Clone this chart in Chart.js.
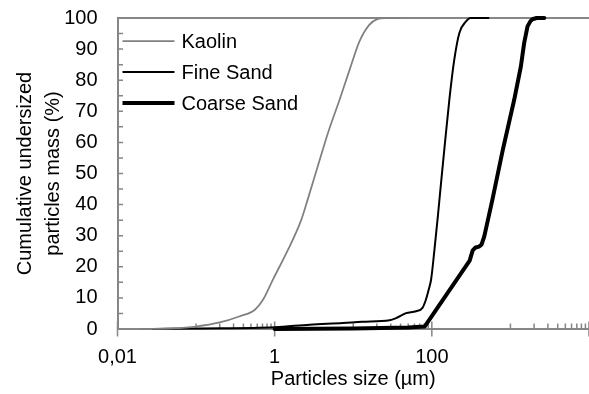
<!DOCTYPE html>
<html>
<head>
<meta charset="utf-8">
<script src="https://cdn.jsdelivr.net/npm/chart.js@4.4.1/dist/chart.umd.min.js"></script>
<style>
  html, body { margin: 0; padding: 0; background: #fff; }
</style>
</head>
<body>
<canvas id="psd" width="589" height="394"></canvas>
<script>
// particle size (µm) and cumulative undersized mass (%)
var kaolinSize = [0.02, 0.05, 0.1, 0.2, 0.36, 0.56, 0.71, 0.95, 1.48, 2.18, 2.63, 4.1, 5.0, 6.7, 9.0, 12, 16, 20.5, 25, 40];
var kaolinMass = [0, 0.2, 0.8, 2.1, 4.1, 6.2, 9.4, 15.9, 25.5, 35.1, 41.6, 57.7, 64.6, 73.7, 83.4, 92.5, 97.8, 99.7, 100, 100];

var fineSize = [0.028, 0.1, 1, 2.8, 7.4, 13, 29, 35, 47, 63, 76, 84, 92, 98, 108, 119, 131, 144, 167, 193, 224, 272, 310, 525];
var fineMass = [0, 0.2, 0.6, 1.4, 1.9, 2.3, 2.8, 3.5, 5.1, 5.7, 6.8, 9.4, 13, 16, 25.5, 36, 47, 57.6, 73.7, 86.6, 95.2, 98.9, 100, 100];

var coarseSize = [1, 10, 50, 81, 303, 331, 360, 400, 430, 465, 590, 800, 1117, 1358, 1497, 1651, 1800, 1908, 2150, 2700];
var coarseMass = [0, 0.2, 0.5, 0.8, 22, 25.3, 26.2, 26.5, 27.2, 29.8, 41.6, 57.6, 73.7, 84.4, 92, 97.3, 99.0, 99.6, 100, 100];

var seriesNames = ['Kaolin', 'Fine Sand', 'Coarse Sand'];

// axis ticks
var xLabelTicks = [0.01, 1, 100, 10000];
var xLabels = ['0,01', '1', '100', ''];
var xMinorTicks = [0.1, 0.2, 0.3, 0.4, 0.5, 0.6, 0.7, 0.8, 0.9,
                   10, 20, 30, 40, 50, 60, 70, 80, 90,
                   1000, 2000, 3000, 4000, 5000, 6000, 7000, 8000, 9000];
var yTickMarks = [5, 10, 15, 20, 25, 30, 35, 40, 45, 50, 55, 60, 65, 70, 75, 80, 85, 90, 95];

var axisGrey = '#868686';
var fontFamily = 'Arial, "Liberation Sans", sans-serif';
var clear = 'rgba(0,0,0,0)';

function pairs(xs, ys) {
    var out = [];
    for (var i = 0; i < xs.length; i++) out.push({x: xs[i], y: ys[i]});
    return out;
}

// Excel-style tick marks: y inside, x minor inside, x major crossing
var tickMarks = {
    id: 'tickMarks',
    beforeDatasetsDraw: function(chart) {
        var ctx = chart.ctx, xs = chart.scales.x, ys = chart.scales.y;
        var bottom = chart.chartArea.bottom, left = chart.chartArea.left;
        ctx.save();
        ctx.strokeStyle = axisGrey;
        ctx.lineWidth = 1.5;
        ctx.beginPath();
        yTickMarks.forEach(function(v) {
            var py = ys.getPixelForValue(v);
            ctx.moveTo(left, py); ctx.lineTo(left + 5.5, py);
        });
        xMinorTicks.forEach(function(v) {
            var px = xs.getPixelForValue(v);
            ctx.moveTo(px, bottom); ctx.lineTo(px, bottom - 5.5);
        });
        xLabelTicks.forEach(function(v) {
            var px = xs.getPixelForValue(v);
            ctx.moveTo(px, bottom - 7.5); ctx.lineTo(px, bottom + 7.5);
        });
        ctx.stroke();
        ctx.restore();
    }
};

// legend sitting inside the plot, top left
var insideLegend = {
    id: 'insideLegend',
    afterDraw: function(chart) {
        var ctx = chart.ctx, a = chart.chartArea;
        chart.data.datasets.forEach(function(ds, i) {
            var y = a.top + 23 + i * 31;
            ctx.save();
            ctx.strokeStyle = ds.borderColor;
            ctx.lineWidth = ds.borderWidth;
            ctx.beginPath();
            ctx.moveTo(a.left + 5, y);
            ctx.lineTo(a.left + 57, y);
            ctx.stroke();
            ctx.fillStyle = '#000';
            ctx.font = '20px ' + fontFamily;
            ctx.textBaseline = 'middle';
            ctx.fillText(ds.label, a.left + 64, y + 1);
            ctx.restore();
        });
    }
};

new Chart(document.getElementById('psd'), {
    type: 'line',
    data: {
        datasets: [
            {label: seriesNames[0], data: pairs(kaolinSize, kaolinMass), borderColor: '#808080', borderWidth: 1.75},
            {label: seriesNames[1], data: pairs(fineSize, fineMass), borderColor: '#000000', borderWidth: 2},
            {label: seriesNames[2], data: pairs(coarseSize, coarseMass), borderColor: '#000000', borderWidth: 4,
             cubicInterpolationMode: 'default', tension: 0}
        ]
    },
    options: {
        responsive: false,
        animation: false,
        devicePixelRatio: 1,
        layout: {padding: {top: 18, right: 0, bottom: 0, left: 0}},
        elements: {
            point: {radius: 0},
            line: {cubicInterpolationMode: 'monotone', borderCapStyle: 'round', borderJoinStyle: 'round', fill: false}
        },
        datasets: {line: {clip: 6}},
        plugins: {legend: {display: false}, tooltip: {enabled: false}},
        scales: {
            x: {
                type: 'logarithmic',
                min: 0.01,
                max: 10000,
                afterBuildTicks: function(scale) {
                    scale.ticks = xLabelTicks.map(function(v) { return {value: v}; });
                },
                afterFit: function(scale) { scale.height = 65; },
                grid: {display: true, drawOnChartArea: false, drawTicks: true, tickLength: 16, tickColor: clear, color: clear},
                border: {display: true, color: axisGrey, width: 2},
                ticks: {
                    autoSkip: false,
                    maxRotation: 0,
                    padding: 0,
                    color: '#000',
                    font: {family: fontFamily, size: 20},
                    callback: function(value) {
                        var i = xLabelTicks.indexOf(value);
                        return i >= 0 ? xLabels[i] : '';
                    }
                },
                title: {
                    display: true,
                    text: 'Particles size (µm)',
                    color: '#000',
                    font: {family: fontFamily, size: 20, lineHeight: 1.2},
                    padding: {top: 0, bottom: 3}
                }
            },
            y: {
                min: 0,
                max: 100,
                afterFit: function(scale) { scale.width = 117.5; },
                grid: {
                    drawTicks: true,
                    tickLength: 20,
                    tickColor: clear,
                    lineWidth: 2,
                    color: function(c) { return c.tick && c.tick.value === 100 ? axisGrey : clear; }
                },
                border: {display: true, color: axisGrey, width: 2},
                ticks: {
                    stepSize: 10,
                    padding: 0,
                    color: '#000',
                    font: {family: fontFamily, size: 20}
                },
                title: {
                    display: true,
                    text: ['Cumulative undersized', 'particles mass (%)'],
                    color: '#000',
                    font: {family: fontFamily, size: 20, lineHeight: 1.43},
                    padding: {top: 11, bottom: 0}
                }
            }
        }
    },
    plugins: [tickMarks, insideLegend]
});
</script>
</body>
</html>
